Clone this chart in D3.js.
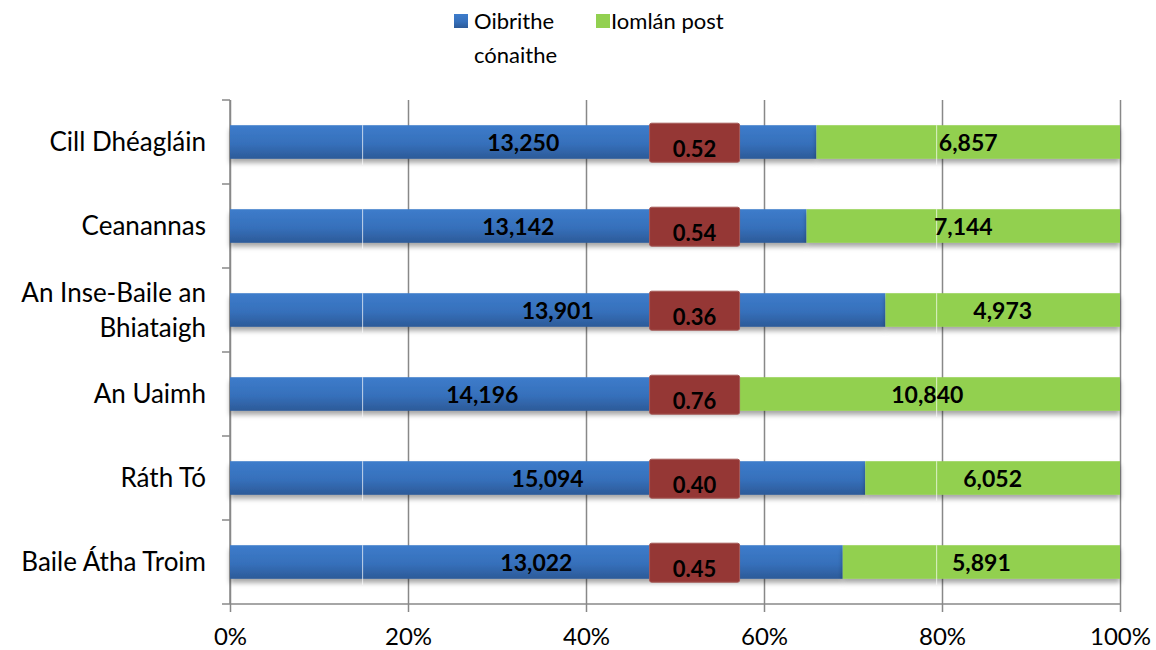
<html>
<head>
<meta charset="utf-8">
<script src="https://d3js.org/d3.v7.min.js"></script>
</head>
<body style="margin:0; padding:0; background:#fff;">
<script>
// chart data
var towns = ["Cill Dhéagláin", "Ceanannas", "An Inse-Baile an Bhiataigh", "An Uaimh", "Ráth Tó", "Baile Átha Troim"];
var residentWorkers = [13250, 13142, 13901, 14196, 15094, 13022];
var totalJobs = [6857, 7144, 4973, 10840, 6052, 5891];
var ratios = ["0.52", "0.54", "0.36", "0.76", "0.40", "0.45"];
var seriesNames = ["Oibrithe cónaithe", "Iomlán post"];
var tickValues = [0, 0.2, 0.4, 0.6, 0.8, 1];

var width = 1156, height = 650;
var plotLeft = 230, plotRight = 1120, plotTop = 100, plotBottom = 604;
var green = "#92d050", red = "#953735";
var font = "Lato, 'Open Sans', sans-serif";

var svg = d3.select("body").append("svg")
	.attr("width", width)
	.attr("height", height)
	.style("font-family", font);

var defs = svg.append("defs");
var grad = defs.append("linearGradient").attr("id", "blueGrad")
	.attr("x1", 0).attr("y1", 0).attr("x2", 0).attr("y2", 1);
grad.append("stop").attr("offset", "0%").attr("stop-color", "#3d7ccb");
grad.append("stop").attr("offset", "55%").attr("stop-color", "#3670bb");
grad.append("stop").attr("offset", "100%").attr("stop-color", "#2c5a98");

var shadow = defs.append("filter").attr("id", "shadow")
	.attr("x", "-5%").attr("y", "-30%").attr("width", "110%").attr("height", "180%");
shadow.append("feDropShadow").attr("dx", 0).attr("dy", 4).attr("stdDeviation", 2.5)
	.attr("flood-color", "#000").attr("flood-opacity", 0.35);

var x = d3.scaleLinear().domain([0, 1]).range([plotLeft, plotRight]);
var y = d3.scaleBand().domain(towns).range([plotTop, plotBottom]).paddingInner(0.6).paddingOuter(0.3);
var yEdges = d3.scaleLinear().domain([0, towns.length]).range([plotTop, plotBottom]);

// gridlines + bottom axis
var xAxis = d3.axisBottom(x).tickValues(tickValues).tickFormat(d3.format(".0%"))
	.tickSize(-(plotBottom - plotTop)).tickPadding(14);
var gx = svg.append("g").attr("transform", "translate(0," + plotBottom + ")").call(xAxis);
gx.select(".domain").remove();
gx.selectAll(".tick line").attr("stroke", "#888").attr("stroke-width", 1.5).attr("y1", 8);
gx.selectAll(".tick text").attr("fill", "#000").attr("y", 24).style("font-size", "24px").style("font-family", font);
svg.append("line").attr("x1", plotLeft).attr("x2", plotRight).attr("y1", plotBottom).attr("y2", plotBottom)
	.attr("stroke", "#888").attr("stroke-width", 1.5);

// left axis with ticks between categories
svg.append("line").attr("x1", plotLeft).attr("x2", plotLeft).attr("y1", plotTop).attr("y2", plotBottom)
	.attr("stroke", "#888").attr("stroke-width", 1.5);
svg.selectAll(".ytick").data(d3.range(towns.length + 1)).enter().append("line")
	.attr("x1", plotLeft - 8).attr("x2", plotLeft)
	.attr("y1", function(d) { return yEdges(d); }).attr("y2", function(d) { return yEdges(d); })
	.attr("stroke", "#888").attr("stroke-width", 1.5);

// category labels
towns.forEach(function(t, i) {
	var lines = t === "An Inse-Baile an Bhiataigh" ? ["An Inse-Baile an", "Bhiataigh"] : [t];
	var cy = y(t) + y.bandwidth() / 2;
	var txt = svg.append("text").attr("text-anchor", "end").attr("x", plotLeft - 24)
		.style("font-size", "26px").attr("fill", "#000");
	lines.forEach(function(l, j) {
		txt.append("tspan").attr("x", plotLeft - 24)
			.attr("y", cy + 9 + (j - (lines.length - 1) / 2) * 35).text(l);
	});
});

// bars
var rows = towns.map(function(t, i) {
	var tot = residentWorkers[i] + totalJobs[i];
	return { town: t, w: residentWorkers[i], j: totalJobs[i], p: residentWorkers[i] / tot, ratio: ratios[i] };
});

var g = svg.append("g");
g.selectAll(".blue").data(rows).enter().append("rect")
	.attr("x", x(0)).attr("y", function(d) { return y(d.town); })
	.attr("width", function(d) { return x(d.p) - x(0); })
	.attr("height", y.bandwidth())
	.attr("fill", "url(#blueGrad)").attr("filter", "url(#shadow)");
g.selectAll(".green").data(rows).enter().append("rect")
	.attr("x", function(d) { return x(d.p); }).attr("y", function(d) { return y(d.town); })
	.attr("width", function(d) { return x(1) - x(d.p); })
	.attr("height", y.bandwidth())
	.attr("fill", green).attr("filter", "url(#shadow)");

// faint white seams seen in the original bars
[0.149, 0.794].forEach(function(v) {
	g.selectAll(null).data(rows).enter().append("line")
		.attr("x1", x(v)).attr("x2", x(v))
		.attr("y1", function(d) { return y(d.town); })
		.attr("y2", function(d) { return y(d.town) + y.bandwidth() + 6; })
		.attr("stroke", "#fff").attr("stroke-opacity", 0.7).attr("stroke-width", 1);
});

// value labels
var fmt = d3.format(",");
g.selectAll(".lblW").data(rows).enter().append("text")
	.attr("x", function(d) { return (x(0) + x(d.p)) / 2; })
	.attr("y", function(d) { return y(d.town) + y.bandwidth() / 2 + 9; })
	.attr("text-anchor", "middle").style("font-size", "23px").style("font-weight", "bold")
	.text(function(d) { return fmt(d.w); });
g.selectAll(".lblJ").data(rows).enter().append("text")
	.attr("x", function(d) { return (x(d.p) + x(1)) / 2; })
	.attr("y", function(d) { return y(d.town) + y.bandwidth() / 2 + 9; })
	.attr("text-anchor", "middle").style("font-size", "23px").style("font-weight", "bold")
	.text(function(d) { return fmt(d.j); });

// ratio boxes
var boxW = 90, boxH = 39;
g.selectAll(".box").data(rows).enter().append("rect")
	.attr("x", x(0.522) - boxW / 2)
	.attr("y", function(d) { return y(d.town) - 2; })
	.attr("width", boxW).attr("height", boxH).attr("rx", 2)
	.attr("fill", red).attr("stroke", "#a65a58").attr("stroke-width", 1);
g.selectAll(".ratio").data(rows).enter().append("text")
	.attr("x", x(0.522))
	.attr("y", function(d) { return y(d.town) - 2 + boxH - 5; })
	.attr("text-anchor", "middle").style("font-size", "22px").style("font-weight", "bold")
	.text(function(d) { return d.ratio; });

// legend
var leg = svg.append("g");
leg.append("rect").attr("x", 454).attr("y", 14).attr("width", 14).attr("height", 14).attr("fill", "url(#blueGrad)");
leg.append("text").attr("x", 474).attr("y", 29).style("font-size", "22px")
	.text(seriesNames[0].split(" ")[0]);
leg.append("text").attr("x", 474).attr("y", 63).style("font-size", "22px")
	.text(seriesNames[0].split(" ")[1]);
leg.append("rect").attr("x", 596).attr("y", 14).attr("width", 14).attr("height", 14).attr("fill", green);
leg.append("text").attr("x", 611).attr("y", 29).style("font-size", "22px").text(seriesNames[1]);
</script>
</body>
</html>
